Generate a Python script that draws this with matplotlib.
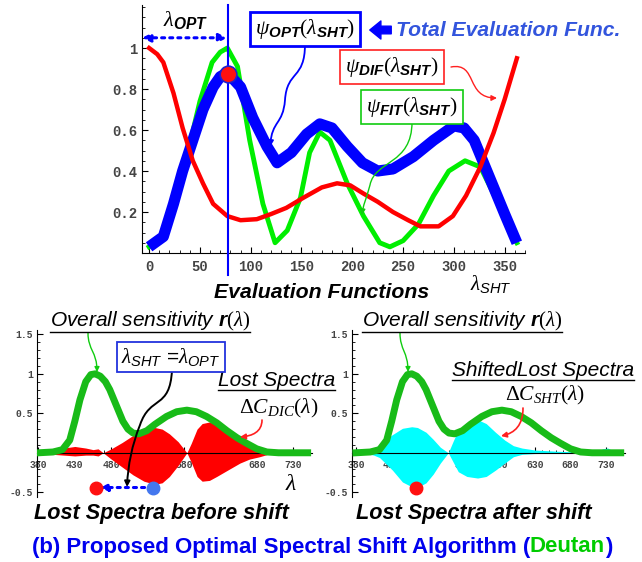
import numpy as np
import matplotlib.pyplot as plt
from matplotlib.patches import FancyArrowPatch
from matplotlib.path import Path
from matplotlib.lines import Line2D
from matplotlib.ticker import MultipleLocator

plt.rcParams['font.family'] = ['Liberation Sans', 'DejaVu Sans']
plt.rcParams['mathtext.fontset'] = 'custom'
plt.rcParams['mathtext.rm'] = 'Liberation Serif'
plt.rcParams['mathtext.it'] = 'Liberation Serif:italic'
plt.rcParams['mathtext.bf'] = 'Liberation Sans:italic:bold'
plt.rcParams['mathtext.sf'] = 'Liberation Sans:italic'

# evaluation functions vs shift amount
sht_opt = [0, 14, 24, 33, 43, 53, 63, 70, 77, 90, 102, 116, 126, 140, 155, 168, 180,
           195, 210, 225, 240, 260, 280, 300, 310, 320, 330, 340, 350, 362]
psi_opt = [0.03, 0.08, 0.24, 0.40, 0.55, 0.70, 0.81, 0.86, 0.88, 0.81, 0.66, 0.52, 0.44,
           0.49, 0.58, 0.63, 0.61, 0.52, 0.44, 0.40, 0.41, 0.47, 0.55, 0.62, 0.61, 0.55, 0.43,
           0.31, 0.19, 0.05]
sht_fit = [0, 10, 20, 30, 40, 50, 62, 70, 77, 87, 99, 112, 124, 136, 149, 158, 168, 178,
           195, 211, 227, 237, 250, 265, 280, 295, 311, 326, 340, 350, 362]
psi_fit = [0.03, 0.06, 0.17, 0.33, 0.53, 0.74, 0.93, 0.98, 1.0, 0.91, 0.55, 0.24, 0.05, 0.11,
           0.27, 0.49, 0.59, 0.55, 0.34, 0.18, 0.05, 0.03, 0.06, 0.14, 0.28, 0.4, 0.45, 0.42,
           0.28, 0.17, 0.05]
sht_dif = [0, 8, 14, 24, 33, 43, 53, 63, 77, 90, 106, 120, 135, 152, 170, 185, 198, 211,
           225, 240, 255, 267, 285, 299, 312, 326, 339, 350, 362]
psi_dif = [1.0, 0.97, 0.93, 0.78, 0.61, 0.45, 0.34, 0.24, 0.18, 0.16, 0.165, 0.19, 0.22,
           0.27, 0.32, 0.34, 0.33, 0.29, 0.25, 0.2, 0.16, 0.13, 0.13, 0.18, 0.28, 0.42, 0.585,
           0.75, 0.95]
lam_opt = 78

# overall sensitivity r(lambda)
wl = [380, 400, 413, 423, 430, 437, 445, 452, 458, 465, 472, 478, 487, 496, 503, 510, 518,
      529, 540, 556, 570, 584, 597, 611, 625, 639, 653, 666, 680, 694, 710, 750]
r_sens = [0, 0.01, 0.04, 0.16, 0.4, 0.67, 0.9, 0.99, 1.0, 0.97, 0.9, 0.8, 0.6, 0.4, 0.3, 0.25,
          0.24, 0.28, 0.36, 0.46, 0.52, 0.54, 0.52, 0.46, 0.38, 0.28, 0.19, 0.12, 0.05, 0.01,
          0, 0]

# lost spectra before shift (envelope)
wl_dic = [380, 390, 400, 415, 430, 445, 455, 462, 469, 480, 495, 510, 525, 540, 550, 560, 572,
          584, 590, 598, 605, 615, 625, 640, 657, 670, 684, 695, 705]
dic_hi = [0, 0.005, 0.03, 0.06, 0.08, 0.06, 0.04, 0.05, 0, 0.05, 0.13, 0.22, 0.29, 0.32, 0.30,
          0.24, 0.14, 0, 0.12, 0.30, 0.37, 0.39, 0.36, 0.27, 0.16, 0.09, 0.04, 0.01, 0]
dic_lo = [0, -0.005, -0.02, -0.03, -0.04, -0.03, -0.03, -0.04, 0, -0.08, -0.18, -0.28, -0.36,
          -0.40, -0.38, -0.30, -0.16, 0, -0.12, -0.30, -0.36, -0.35, -0.30, -0.22, -0.13, -0.08,
          -0.05, -0.02, 0]

# lost spectra after shift (envelope)
wl_sht = [380, 385, 395, 405, 413, 422, 431, 445, 458, 466, 478, 488, 498, 509, 516, 523, 535,
          550, 562, 575, 588, 600, 612, 630, 660, 690, 715, 725, 732, 740, 745]
sht_hi = [0.05, 0.04, 0.03, 0.06, 0.1, 0.17, 0.23, 0.31, 0.33, 0.32, 0.26, 0.17, 0.07, 0, 0.15,
          0.29, 0.38, 0.42, 0.37, 0.26, 0.16, 0.09, 0.06, 0.035, 0.02, 0.01, 0.01, 0.05, 0.06,
          0.02, 0]
sht_lo = [-0.01, -0.01, -0.01, -0.03, -0.06, -0.14, -0.22, -0.37, -0.43, -0.44, -0.38, -0.27,
          -0.13, 0, -0.12, -0.24, -0.30, -0.32, -0.30, -0.22, -0.13, -0.05, -0.02, -0.01,
          -0.005, -0.005, 0, -0.005, -0.01, 0, 0]

peak_before = (537, -0.44)
peak_target = (459, -0.44)
peak_after = (464, -0.44)

W, H = 642, 562
fig = plt.figure(figsize=(W / 100, H / 100), dpi=100)


def fp(x, y):
    return (x / W, 1 - y / H)


def ax_px(l, t, r, b):
    return fig.add_axes([l / W, 1 - b / H, (r - l) / W, (b - t) / H])


def connector(pts, color, lw=1.2, head=9):
    verts = [fp(*p) for p in pts]
    codes = [Path.MOVETO] + [Path.CURVE4] * (len(pts) - 1)
    arr = FancyArrowPatch(path=Path(verts, codes), arrowstyle='-|>', mutation_scale=head,
                          color=color, lw=lw, transform=fig.transFigure)
    fig.add_artist(arr)


def mathematica_axes(ax, xt, yt, ylabels, fs):
    ax.spines['top'].set_visible(False)
    ax.spines['right'].set_visible(False)
    ax.spines['bottom'].set_position(('data', 0))
    ax.patch.set_alpha(0)
    ax.set_xticks(xt, [str(v) for v in xt], fontfamily='Liberation Mono', fontweight='bold',
                  fontsize=fs, color='#444444')
    ax.set_yticks(yt, ylabels, fontfamily='Liberation Mono', fontweight='bold',
                  fontsize=fs, color='#444444')
    ax.tick_params(direction='in', length=4, width=0.8, pad=3)
    ax.tick_params(which='minor', direction='in', length=2, width=0.6)


# ---------------- top: evaluation functions ----------------
ax1 = ax_px(142, 5, 525, 253)
ax1.set_xlim(-7, 370)
ax1.set_ylim(0, 1.21)
ax1.plot(sht_fit, psi_fit, color='#00ee00', lw=3.5, zorder=3)
ax1.plot(sht_opt, psi_opt, color='#0000ff', lw=8, zorder=4, solid_capstyle='butt')
ax1.plot(sht_dif, psi_dif, color='#ff0000', lw=3.2, zorder=5)
ax1.plot([lam_opt, lam_opt], [-0.107, 1.21], color='#0000ff', lw=1.5, clip_on=False, zorder=6)
ax1.plot([lam_opt], [np.interp(lam_opt, sht_opt, psi_opt)], 'o', ms=12, color='#ff1010',
         mec='#2020cc', mew=1.2, zorder=7)
mathematica_axes(ax1, list(range(0, 351, 50)), [0.2, 0.4, 0.6, 0.8, 1.0],
                 ['0.2', '0.4', '0.6', '0.8', '1'], 10)
ax1.xaxis.set_minor_locator(MultipleLocator(10))
ax1.yaxis.set_minor_locator(MultipleLocator(0.05))
ax1.tick_params(axis='x', pad=5)
ax1.annotate('', xy=(lam_opt - 1, 1.05), xytext=(-7, 1.05),
             arrowprops=dict(arrowstyle='<|-|>', ls=':', lw=2.2, color='#0000ff',
                             shrinkA=0, shrinkB=0, mutation_scale=12), annotation_clip=False)

fig.text(*fp(186, 20), r'$\lambda_{\mathbf{OPT}}$', fontsize=16, ha='center', va='center')
fig.text(*fp(305, 29), r'$\psi_{\mathbf{OPT}}(\lambda_{\mathbf{SHT}})$', fontsize=15.5,
         ha='center', va='center',
         bbox=dict(boxstyle='square,pad=0.22', fc='white', ec='#0000ff', lw=2))
fig.text(*fp(392, 67), r'$\psi_{\mathbf{DIF}}(\lambda_{\mathbf{SHT}})$', fontsize=15.5,
         ha='center', va='center',
         bbox=dict(boxstyle='square,pad=0.25', fc='white', ec='#ff2020', lw=1.2))
fig.text(*fp(412, 107), r'$\psi_{\mathbf{FIT}}(\lambda_{\mathbf{SHT}})$', fontsize=15.5,
         ha='center', va='center',
         bbox=dict(boxstyle='square,pad=0.25', fc='white', ec='#10cc10', lw=1.2))
fig.add_artist(FancyArrowPatch(fp(394, 30), fp(367, 30),
                               arrowstyle='simple,head_width=1.3,head_length=0.8,tail_width=0.55',
                               mutation_scale=10, color='#0000ff', transform=fig.transFigure))
fig.text(*fp(396, 30), 'Total Evaluation Func.', fontsize=15.2, style='italic', weight='bold',
         color='#3355dd', ha='left', va='center')
fig.text(*fp(322, 292), 'Evaluation Functions', fontsize=15.3, style='italic', weight='bold',
         ha='center', va='center')
fig.text(*fp(491, 284), r'$\lambda_{\mathsf{SHT}}$', fontsize=15, ha='center', va='center')

connector([(305, 44), (305, 80), (287, 70), (285, 100), (283, 125), (272, 120), (270, 147)],
          '#0000ff', lw=1.3)
connector([(451, 67), (478, 62), (465, 98), (497, 98)], '#ff2020', lw=1.0, head=8)
connector([(412, 122), (412, 165), (375, 160), (370, 185), (366, 200), (363, 205), (362, 215)],
          '#10cc10', lw=1.0, head=8)

# ---------------- bottom panels ----------------
ax2 = ax_px(37, 330, 312, 497)
ax3 = ax_px(352, 330, 625, 497)
for ax, x0 in ((ax2, 378), (ax3, 374.5)):
    ax.set_xlim(x0, 756)
    ax.set_ylim(-0.56, 1.555)
    mathematica_axes(ax, list(range(380, 731, 50)), [-0.5, 0.5, 1.0, 1.5],
                     ['-0.5', '0.5', '1', '1.5'], 7)
    ax.xaxis.set_minor_locator(MultipleLocator(10))
    ax.yaxis.set_minor_locator(MultipleLocator(0.1))
    ax.tick_params(axis='x', pad=5)
    ax.plot(wl, r_sens, color='#18bb18', lw=5, zorder=4)

ax2.fill_between(wl_dic, dic_lo, dic_hi, color='#ff0000', lw=0, zorder=2)
ax3.fill_between(wl_sht, sht_lo, sht_hi, color='#00ffff', lw=0, zorder=2)

ax2.annotate('', xy=(peak_target[0] + 6, peak_target[1]), xytext=peak_before,
             arrowprops=dict(arrowstyle='-|>', ls=':', lw=2.2, color='#0000ff',
                             shrinkA=0, shrinkB=0, mutation_scale=10), annotation_clip=False)
ax2.plot(*peak_target, 'o', ms=9, color='#ff1010', clip_on=False, zorder=6)
ax2.plot(*peak_before, 'o', ms=9, color='#4477ee', clip_on=False, zorder=6)
ax3.plot(*peak_after, 'o', ms=9, color='#ff1010', clip_on=False, zorder=6)

under = []
under.append(fig.text(*fp(50, 321), r'Overall sensitivity $\mathbf{r}(\lambda)$', fontsize=15,
                      style='italic', ha='left', va='center'))
under.append(fig.text(*fp(362, 321), r'Overall sensitivity $\mathbf{r}(\lambda)$', fontsize=15,
                      style='italic', ha='left', va='center'))
under.append(fig.text(*fp(218, 381), 'Lost Spectra', fontsize=15, style='italic',
                      ha='left', va='center'))
under.append(fig.text(*fp(452, 371), 'ShiftedLost Spectra', fontsize=15, style='italic',
                      ha='left', va='center'))
fig.text(*fp(279, 408), r'$\Delta C_{DIC}(\lambda)$', fontsize=15.5, ha='center', va='center')
fig.text(*fp(545, 395), r'$\Delta C_{SHT}(\lambda)$', fontsize=15.5, ha='center', va='center')
fig.text(*fp(171, 357), r'$\lambda_{\mathsf{SHT}}$ =$\lambda_{\mathsf{OPT}}$', fontsize=15,
         ha='center', va='center',
         bbox=dict(boxstyle='square,pad=0.2', fc='white', ec='#2233dd', lw=1.3))
fig.text(*fp(291, 484), r'$\lambda$', fontsize=17, ha='center', va='center')
fig.text(*fp(161, 513), 'Lost Spectra before shift', fontsize=15.6, style='italic',
         weight='bold', ha='center', va='center')
fig.text(*fp(474, 513), 'Lost Spectra after shift', fontsize=15.6, style='italic',
         weight='bold', ha='center', va='center')

connector([(88, 333), (88, 350), (97, 352), (97, 372)], '#10cc10', lw=1.0, head=7)
connector([(400, 333), (400, 350), (408, 352), (408, 372)], '#10cc10', lw=1.0, head=7)
connector([(262, 420), (262, 432), (252, 436), (240, 437)], '#ff2020', lw=1.2, head=8)
connector([(523, 408), (523, 425), (515, 433), (501, 436)], '#ff2020', lw=1.2, head=8)
connector([(172, 370), (170, 410), (150, 395), (140, 425), (132, 445), (128, 465), (127, 487)],
          'black', lw=1.4, head=8)

# title with coloured word
parts = [('(b) Proposed Optimal Spectral Shift Algorithm (', '#0000ee'),
         ('Deutan', '#00cc00'), (')', '#0000ee')]
renderer = fig.canvas.get_renderer()
tparts = [fig.text(0, 1 - 547 / H, s, fontsize=16, weight='bold', color=c, ha='left',
                   va='center') for s, c in parts]
widths = [t.get_window_extent(renderer).width for t in tparts]
x = 322 - sum(widths) / 2
for t, w in zip(tparts, widths):
    t.set_x(x / W)
    x += w

for t in under:
    bb = t.get_window_extent(renderer)
    fig.add_artist(Line2D([bb.x0 / W, bb.x1 / W], [(bb.y0 + 1) / H] * 2, color='black',
                          lw=1.0, transform=fig.transFigure))

fig.savefig('out.png', dpi=100, facecolor='white')
